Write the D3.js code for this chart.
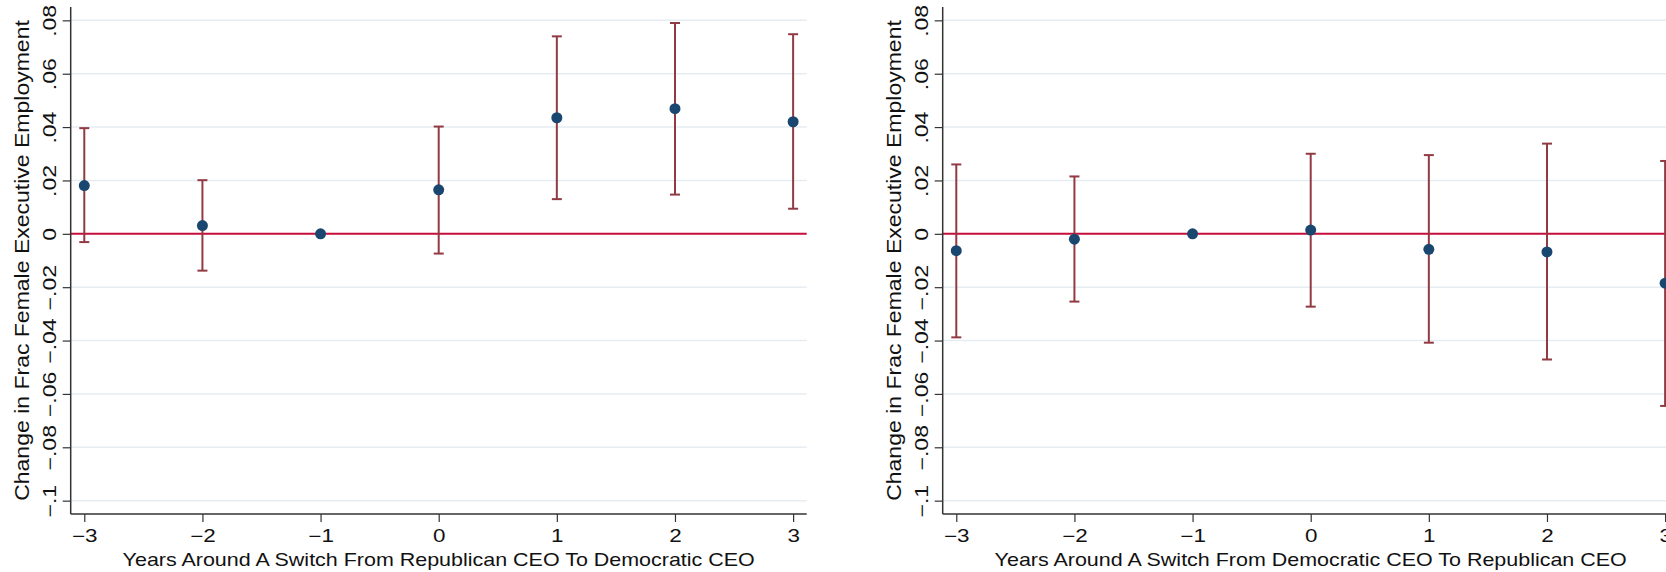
<!DOCTYPE html>
<html>
<head>
    <title>Event study: CEO party switch</title>
    <script src="https://d3js.org/d3.v7.min.js"></script>
    <style>
        body { margin: 0; background: #fff; }
        text { font-family: "Liberation Sans", Arial, sans-serif; fill: #111; }
    </style>
</head>
<body>
    <svg id="chart" width="1666" height="572"></svg>

    <script>
        // years relative to the switch
        var years = [-3, -2, -1, 0, 1, 2, 3];
        var yTicks = [-0.1, -0.08, -0.06, -0.04, -0.02, 0, 0.02, 0.04, 0.06, 0.08];
        var yTickLabels = ["\u2212.1", "\u2212.08", "\u2212.06", "\u2212.04", "\u2212.02", "0", ".02", ".04", ".06", ".08"];

        // Republican -> Democratic CEO
        var repToDemEst = [0.0181, 0.0031, 0, 0.0165, 0.0435, 0.0469, 0.0420];
        var repToDemLo  = [-0.0031, -0.0138, null, -0.0074, 0.0130, 0.0147, 0.0094];
        var repToDemHi  = [0.0396, 0.0201, null, 0.0402, 0.0740, 0.0790, 0.0748];

        // Democratic -> Republican CEO
        var demToRepEst = [-0.0063, -0.0020, 0, 0.0014, -0.0058, -0.0068, -0.0185];
        var demToRepLo  = [-0.0388, -0.0254, null, -0.0273, -0.0408, -0.0471, -0.0645];
        var demToRepHi  = [0.0260, 0.0215, null, 0.0300, 0.0295, 0.0338, 0.0273];

        var yTitle = "Change in Frac Female Executive Employment";
        var xTitles = ["Years Around A Switch From Republican CEO To Democratic CEO",
                       "Years Around A Switch From Democratic CEO To Republican CEO"];

        var svg = d3.select("#chart");
        var plotTop = 7, plotBottom = 514, plotW = 736;

        var yScale = d3.scaleLinear().domain([-0.105, 0.085]).range([plotBottom, plotTop]);

        // the original font is wider than Liberation Sans: stretch along the reading direction
        function widen(sel, factor) {
            sel.each(function () {
                var len = this.getComputedTextLength();
                d3.select(this).attr("textLength", len * factor).attr("lengthAdjust", "spacingAndGlyphs");
            });
        }

        function drawPanel(left, est, lo, hi, xTitle) {
            var xScale = d3.scaleLinear().domain([-3.115, 3.115]).range([left, left + plotW]);
            var g = svg.append("g");

            // gridlines
            g.selectAll(".grid").data(yTicks).enter().append("line")
                .attr("x1", left).attr("x2", left + plotW)
                .attr("y1", d => yScale(d)).attr("y2", d => yScale(d))
                .attr("stroke", "#e6edf2").attr("stroke-width", 1.5);

            // zero line
            g.append("line")
                .attr("x1", left).attr("x2", left + plotW)
                .attr("y1", yScale(0)).attr("y2", yScale(0))
                .attr("stroke", "#c80f3c").attr("stroke-width", 2);

            // y axis
            var yAxis = g.append("g").attr("transform", "translate(" + left + ",0)")
                .call(d3.axisLeft(yScale).tickValues(yTicks).tickSize(8)
                    .tickFormat((d, i) => yTickLabels[i]));
            yAxis.select(".domain").attr("stroke", "#333").attr("stroke-width", 1.5)
                .attr("d", "M0," + plotTop + "V" + plotBottom);
            yAxis.selectAll(".tick line").attr("stroke", "#333").attr("stroke-width", 1.2);
            yAxis.selectAll(".tick text")
                .attr("x", null).attr("dy", null)
                .attr("transform", "translate(-15,0) rotate(-90)")
                .attr("text-anchor", "middle")
                .style("font-size", "18px").style("font-family", "Liberation Sans, Arial, sans-serif")
                .attr("fill", "#111")
                .call(widen, 1.28);

            // x axis
            var xAxis = g.append("g").attr("transform", "translate(0," + plotBottom + ")")
                .call(d3.axisBottom(xScale).tickValues(years).tickSize(8)
                    .tickFormat(d => d < 0 ? "\u2212" + Math.abs(d) : d));
            xAxis.select(".domain").attr("stroke", "#333").attr("stroke-width", 1.5)
                .attr("d", "M" + left + ",0H" + (left + plotW));
            xAxis.selectAll(".tick line").attr("stroke", "#333").attr("stroke-width", 1.2);
            xAxis.selectAll(".tick text").attr("dy", null).attr("y", 28)
                .style("font-size", "17.5px").style("font-family", "Liberation Sans, Arial, sans-serif")
                .attr("fill", "#111")
                .call(widen, 1.28);

            // axis titles
            g.append("text")
                .attr("transform", "translate(" + (left - 42) + "," + ((plotTop + plotBottom) / 2) + ") rotate(-90)")
                .attr("text-anchor", "middle")
                .style("font-size", "20px")
                .text(yTitle)
                .call(widen, 1.15);
            g.append("text")
                .attr("x", left + plotW / 2).attr("y", 566)
                .attr("text-anchor", "middle")
                .style("font-size", "18.5px")
                .text(xTitle)
                .call(widen, 1.16);

            // confidence intervals
            var ci = years.map((d, i) => ({ x: d, lo: lo[i], hi: hi[i] })).filter(d => d.lo !== null);
            var bars = g.selectAll(".ci").data(ci).enter().append("g").attr("class", "ci")
                .attr("stroke", "#923a43").attr("stroke-width", 2);
            bars.append("line")
                .attr("x1", d => xScale(d.x)).attr("x2", d => xScale(d.x))
                .attr("y1", d => yScale(d.lo)).attr("y2", d => yScale(d.hi));
            bars.append("line")
                .attr("x1", d => xScale(d.x) - 5).attr("x2", d => xScale(d.x) + 5)
                .attr("y1", d => yScale(d.lo)).attr("y2", d => yScale(d.lo));
            bars.append("line")
                .attr("x1", d => xScale(d.x) - 5).attr("x2", d => xScale(d.x) + 5)
                .attr("y1", d => yScale(d.hi)).attr("y2", d => yScale(d.hi));

            // point estimates
            g.selectAll(".pt").data(years).enter().append("circle")
                .attr("cx", d => xScale(d))
                .attr("cy", (d, i) => yScale(est[i]))
                .attr("r", 5.5)
                .attr("fill", "#1a476f");
        }

        drawPanel(70.7, repToDemEst, repToDemLo, repToDemHi, xTitles[0]);
        drawPanel(942.7, demToRepEst, demToRepLo, demToRepHi, xTitles[1]);
    </script>
</body>
</html>
